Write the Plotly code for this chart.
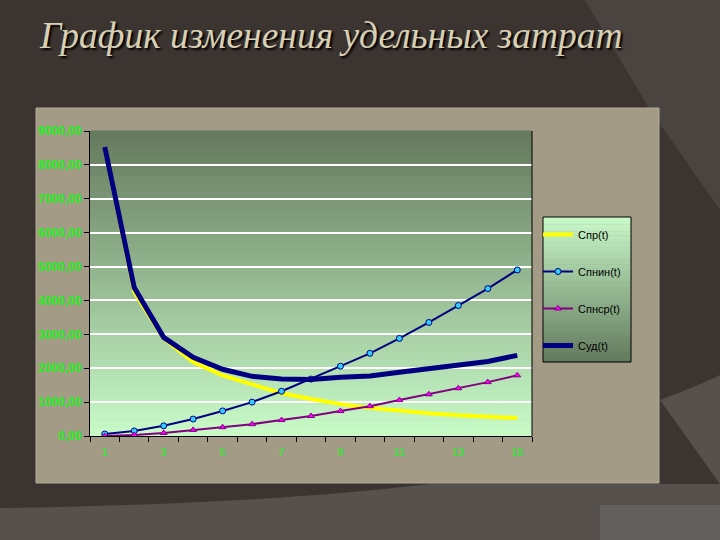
import plotly.graph_objects as go

t = list(range(1, 16))
s_pr = [8500, 4250, 2880, 2180, 1790, 1530, 1260, 1090, 940, 830, 740, 670, 610, 570, 530]
s_pnin = [60, 150, 300, 500, 740, 1000, 1320, 1680, 2060, 2440, 2880, 3350, 3850, 4350, 4900]
s_pnsr = [0, 30, 90, 180, 260, 350, 470, 590, 735, 880, 1060, 1230, 1410, 1590, 1790]
s_ud = [8530, 4380, 2910, 2320, 1970, 1760, 1680, 1670, 1730, 1770, 1880, 1980, 2080, 2200, 2380]

y_ticks = [0, 1000, 2000, 3000, 4000, 5000, 6000, 7000, 8000, 9000]
y_labels = ["0,00", "1000,00", "2000,00", "3000,00", "4000,00", "5000,00",
            "6000,00", "7000,00", "8000,00", "9000,00"]
x_label_vals = [1, 3, 5, 7, 9, 11, 13, 15]
x_labels = ["1", "3", "5", "7", "9", "11", "13", "15"]
names = ["Спр(t)", "Спнин(t)", "Спнср(t)", "Суд(t)"]

W, H = 720, 540
L, R, T, B = 90, 532, 131, 436


def px(x):
    return (x - L) / (R - L)


def py(y):
    return (B - y) / (B - T)


def lerp(c1, c2, f):
    return "rgb(%d,%d,%d)" % tuple(round(a + (b - a) * f) for a, b in zip(c1, c2))


fig = go.Figure()
fig.add_trace(go.Scatter(x=t, y=s_pr, name=names[0], mode="lines",
                         line=dict(color="#ffff00", width=4), legendgroup="a"))
fig.add_trace(go.Scatter(x=t, y=s_pnin, name=names[1], mode="lines+markers",
                         line=dict(color="#000080", width=2),
                         marker=dict(symbol="circle", size=6, color="#33ccff",
                                     line=dict(color="#000080", width=1)),
                         legendgroup="b"))
fig.add_trace(go.Scatter(x=t, y=s_pnsr, name=names[2], mode="lines+markers",
                         line=dict(color="#800080", width=2),
                         marker=dict(symbol="triangle-up", size=6, color="#ff00ff",
                                     line=dict(color="#800080", width=1)),
                         legendgroup="c"))
fig.add_trace(go.Scatter(x=t, y=s_ud, name=names[3], mode="lines",
                         line=dict(color="#000080", width=5), legendgroup="d"))

shapes = []
# slide background pieces
shapes.append(dict(type="path", xref="paper", yref="paper", layer="below",
                   path="M %f %f L %f %f L %f %f L %f %f Z" % (
                       px(585), py(0), px(720), py(0), px(720), py(210), px(650), py(110)),
                   fillcolor="#4a4441", line=dict(width=0)))
shapes.append(dict(type="path", xref="paper", yref="paper", layer="below",
                   path="M %f %f Q %f %f %f %f L %f %f L %f %f L %f %f Z" % (
                       px(0), py(508), px(250), py(505), px(430), py(484),
                       px(720), py(484), px(720), py(540), px(0), py(540)),
                   fillcolor="#57514e", line=dict(width=0)))
shapes.append(dict(type="path", xref="paper", yref="paper", layer="below",
                   path="M %f %f Q %f %f %f %f L %f %f Z" % (
                       px(660), py(400), px(700), py(385), px(720), py(375),
                       px(720), py(484)),
                   fillcolor="#57514e", line=dict(width=0)))
shapes.append(dict(type="rect", xref="paper", yref="paper", layer="below",
                   x0=px(600), x1=px(720), y0=py(505), y1=py(540),
                   fillcolor="#636060", line=dict(width=0)))
# chart box
shapes.append(dict(type="rect", xref="paper", yref="paper", layer="below",
                   x0=px(36), x1=px(659), y0=py(483), y1=py(108),
                   fillcolor="#a49b86", line=dict(color="#b3ab97", width=1)))
# plot-area gradient
top_c, bot_c = (101, 122, 94), (200, 250, 200)
nb = 40
for i in range(nb):
    shapes.append(dict(type="rect", xref="x domain", yref="y domain", layer="below",
                       x0=0, x1=1, y0=1 - (i + 1) / nb, y1=1 - i / nb + 0.002,
                       fillcolor=lerp(top_c, bot_c, i / (nb - 1)), line=dict(width=0)))
# legend gradient
lx0, lx1, ly0, ly1 = 543, 631, 217, 362
for i in range(nb):
    a = ly0 + (ly1 - ly0) * i / nb
    b = ly0 + (ly1 - ly0) * (i + 1) / nb
    shapes.append(dict(type="rect", xref="paper", yref="paper", layer="below",
                       x0=px(lx0), x1=px(lx1), y0=py(b) - 0.001, y1=py(a),
                       fillcolor=lerp((200, 248, 200), (98, 122, 93), i / (nb - 1)),
                       line=dict(width=0)))
shapes.append(dict(type="rect", xref="paper", yref="paper", layer="above",
                   x0=px(lx0), x1=px(lx1), y0=py(ly1), y1=py(ly0),
                   fillcolor="rgba(0,0,0,0)", line=dict(color="#000000", width=1)))
# right border of plot area
shapes.append(dict(type="line", xref="paper", yref="paper", layer="above",
                   x0=1, x1=1, y0=0, y1=1, line=dict(color="#000000", width=1)))

fig.update_layout(
    width=W, height=H,
    margin=dict(l=L, r=W - R, t=T, b=H - B),
    paper_bgcolor="#3b3430",
    plot_bgcolor="rgba(0,0,0,0)",
    shapes=shapes,
    title=dict(text="График изменения удельных затрат", xref="container", yref="container",
               x=40 / W, xanchor="left", y=1 - 35 / H, yanchor="middle",
               font=dict(family="Liberation Serif", size=37.5, color="#d8d0b4",
                         style="italic", shadow="2px 2px 2px #000000")),
    xaxis=dict(range=[0.5, 15.5], tickmode="array", tickvals=x_label_vals, ticktext=x_labels,
               ticks="", showgrid=False, zeroline=False, showline=True,
               linecolor="#000000", linewidth=1, ticklabelstandoff=6,
               tickfont=dict(family="Liberation Sans", size=11, color="#40dd40", weight="bold"),
               minor=dict(tickmode="array", tickvals=[v + 0.5 for v in [0] + t],
                          ticks="outside", ticklen=5, tickcolor="#000000", showgrid=False)),
    yaxis=dict(range=[0, 9000], tickmode="array", tickvals=y_ticks, ticktext=y_labels,
               ticks="outside", ticklen=5, tickcolor="#000000",
               showgrid=True, gridcolor="#ffffff", gridwidth=1.5, zeroline=False,
               showline=True, linecolor="#000000", linewidth=1,
               tickfont=dict(family="Liberation Sans", size=12, color="#22f022", weight="bold")),
    legend=dict(x=px(538), y=py(220), xanchor="left", yanchor="top",
                bgcolor="rgba(0,0,0,0)", borderwidth=0, tracegroupgap=18,
                font=dict(family="Liberation Sans", size=11, color="#000000"),
                itemwidth=30),
    showlegend=True,
)

fig.write_html("out.html", config={"displayModeBar": False},
               post_script="document.body.style.margin='0';")
